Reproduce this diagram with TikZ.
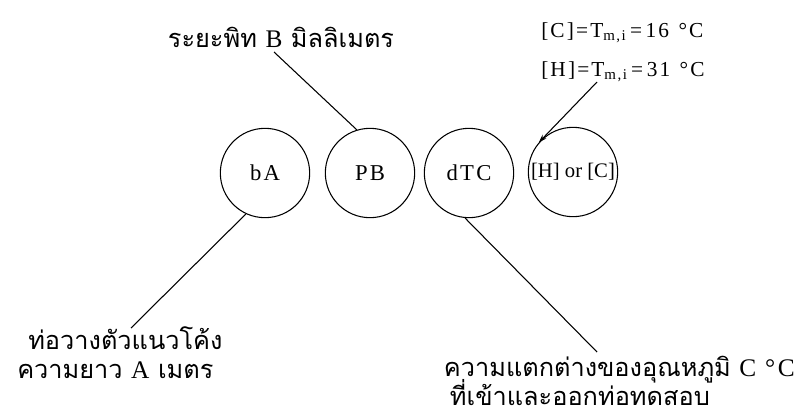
\documentclass[tikz,border=0pt]{standalone}
\usepackage{fontspec}
\setmainfont{Liberation Serif}
\newfontfamily\widerm{Liberation Serif}[LetterSpace=10]
\newfontfamily\thaifont[Script=Thai]{Loma}
\usetikzlibrary{arrows.meta}
\tikzset{
  bubble/.style={circle, draw, line width=0.8pt, minimum size=67pt, inner sep=0pt, font=\widerm\fontsize{17}{20}\selectfont},
  thai/.style={font=\thaifont\fontsize{19}{23}\selectfont, inner sep=0pt},
  lab/.style={font=\widerm\fontsize{16}{19}\selectfont, inner sep=0pt},
  conn/.style={line width=0.8pt},
}
\begin{document}
\begin{tikzpicture}[x=0.75pt,y=-0.75pt]
\useasboundingbox (0,0) rectangle (799,415);
% circles
\node[bubble] (bA) at (265,173) {bA};
\node[bubble] (PB) at (370,173) {PB};
\node[bubble] (dTC) at (469,173) {dTC};
\node[bubble, font=\rmfamily\fontsize{15.5}{17}\selectfont] (HC) at (573,172) {[H] or [C]};
% texts
\node[thai, anchor=base] (pitch) at (281,47) {ระยะพิท {\widerm B} มิลลิเมตร};
\node[lab, anchor=base west] (tc) at (541,37) {[C]=T\textsubscript{m,i}\,=\,16\;\,°C};
\node[lab, anchor=base west] (th) at (541,76) {[H]=T\textsubscript{m,i}\,=\,31\;\,°C};
\node[thai, anchor=base west] (la1) at (28,349) {ท่อวางตัวแนวโค้ง};
\node[thai, anchor=base west] (la2) at (17,378) {ความยาว {\widerm A} เมตร};
\node[thai, anchor=base east] (rb1) at (795,376) {ความแตกต่างของอุณหภูมิ {\widerm C °C}};
\path (rb1.base west) ++(6,29) node[thai, anchor=base west] (rb2) {ที่เข้าและออกท่อทดสอบ};
% connector end points
\coordinate (p1) at (274,52);
\coordinate (p2) at (131,328);
\coordinate (p3) at (597,352);
\coordinate (p4) at (597,82);
% connectors
\draw[conn] (PB.107) -- (p1);
\draw[conn] (bA.245) -- (p2);
\draw[conn] (dTC.265) -- (p3);
\draw[conn, -{Stealth[length=6pt,width=4pt]}] (p4) -- (HC.139);
\end{tikzpicture}
\end{document}
